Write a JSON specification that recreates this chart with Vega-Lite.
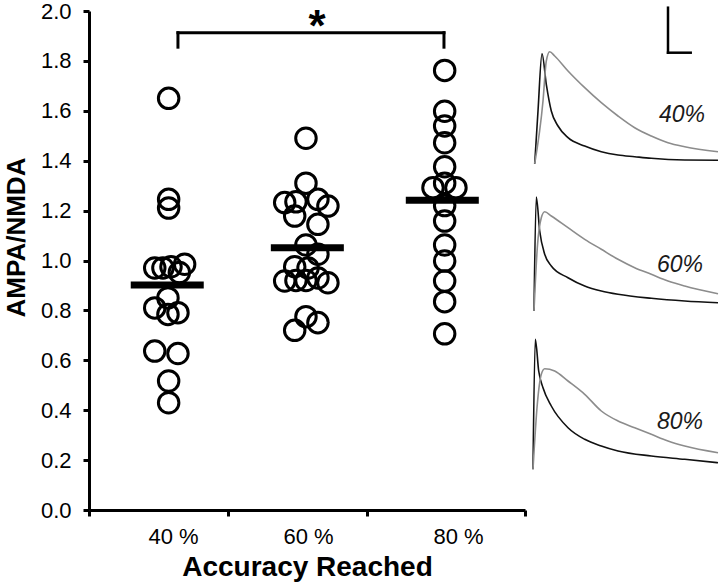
{
  "$schema": "https://vega.github.io/schema/vega-lite/v6.json",
  "autosize": {"type": "pad"},
  "padding": {"left": 3, "top": 0, "right": 0, "bottom": 2},
  "spacing": 8,
  "bounds": "flush",
  "config": {
    "view": {"stroke": null},
    "font": "Liberation Sans",
    "axis": {"domainColor": "black", "tickColor": "black", "labelColor": "black", "titleColor": "black", "grid": false}
  },
  "datasets": {
    "points": [
      {"group": "40 %", "pos": 0.573, "ratio": 1.65},
      {"group": "40 %", "pos": 0.573, "ratio": 1.245},
      {"group": "40 %", "pos": 0.573, "ratio": 1.21},
      {"group": "40 %", "pos": 0.473, "ratio": 0.97},
      {"group": "40 %", "pos": 0.532, "ratio": 0.97},
      {"group": "40 %", "pos": 0.590, "ratio": 0.975},
      {"group": "40 %", "pos": 0.688, "ratio": 0.985},
      {"group": "40 %", "pos": 0.650, "ratio": 0.952},
      {"group": "40 %", "pos": 0.568, "ratio": 0.85},
      {"group": "40 %", "pos": 0.473, "ratio": 0.81},
      {"group": "40 %", "pos": 0.568, "ratio": 0.784},
      {"group": "40 %", "pos": 0.640, "ratio": 0.791},
      {"group": "40 %", "pos": 0.473, "ratio": 0.637},
      {"group": "40 %", "pos": 0.640, "ratio": 0.627},
      {"group": "40 %", "pos": 0.573, "ratio": 0.517},
      {"group": "40 %", "pos": 0.573, "ratio": 0.43},
      {"group": "60 %", "pos": 1.561, "ratio": 1.49},
      {"group": "60 %", "pos": 1.561, "ratio": 1.31},
      {"group": "60 %", "pos": 1.408, "ratio": 1.232},
      {"group": "60 %", "pos": 1.489, "ratio": 1.235},
      {"group": "60 %", "pos": 1.480, "ratio": 1.178},
      {"group": "60 %", "pos": 1.647, "ratio": 1.245},
      {"group": "60 %", "pos": 1.719, "ratio": 1.218},
      {"group": "60 %", "pos": 1.647, "ratio": 1.145},
      {"group": "60 %", "pos": 1.561, "ratio": 1.062},
      {"group": "60 %", "pos": 1.647, "ratio": 1.025},
      {"group": "60 %", "pos": 1.480, "ratio": 0.975},
      {"group": "60 %", "pos": 1.576, "ratio": 0.97},
      {"group": "60 %", "pos": 1.408, "ratio": 0.918},
      {"group": "60 %", "pos": 1.489, "ratio": 0.92},
      {"group": "60 %", "pos": 1.561, "ratio": 0.92},
      {"group": "60 %", "pos": 1.647, "ratio": 0.93},
      {"group": "60 %", "pos": 1.719, "ratio": 0.911},
      {"group": "60 %", "pos": 1.561, "ratio": 0.775},
      {"group": "60 %", "pos": 1.647, "ratio": 0.751},
      {"group": "60 %", "pos": 1.480, "ratio": 0.72},
      {"group": "80 %", "pos": 2.559, "ratio": 1.762},
      {"group": "80 %", "pos": 2.559, "ratio": 1.598},
      {"group": "80 %", "pos": 2.559, "ratio": 1.539},
      {"group": "80 %", "pos": 2.559, "ratio": 1.472},
      {"group": "80 %", "pos": 2.559, "ratio": 1.376},
      {"group": "80 %", "pos": 2.559, "ratio": 1.31},
      {"group": "80 %", "pos": 2.475, "ratio": 1.292},
      {"group": "80 %", "pos": 2.640, "ratio": 1.292},
      {"group": "80 %", "pos": 2.559, "ratio": 1.22},
      {"group": "80 %", "pos": 2.559, "ratio": 1.158},
      {"group": "80 %", "pos": 2.559, "ratio": 1.062},
      {"group": "80 %", "pos": 2.559, "ratio": 0.998},
      {"group": "80 %", "pos": 2.559, "ratio": 0.918},
      {"group": "80 %", "pos": 2.559, "ratio": 0.835},
      {"group": "80 %", "pos": 2.559, "ratio": 0.706}
    ],
    "means": [
      {"group": "40 %", "pos": 0.563, "ratio": 0.902},
      {"group": "60 %", "pos": 1.571, "ratio": 1.051},
      {"group": "80 %", "pos": 2.542, "ratio": 1.241}
    ],
    "bracket": [
      {"pos": 0.64, "pos2": 0.64, "ratio": 1.855, "ratio2": 1.913},
      {"pos": 0.64, "pos2": 2.554, "ratio": 1.913, "ratio2": 1.913},
      {"pos": 2.554, "pos2": 2.554, "ratio": 1.855, "ratio2": 1.913}
    ],
    "signif": [
      {"pos": 1.64, "ratio": 1.88, "label": "*"}
    ],
    "traces": [
      {"id": "40 AMPA", "receptor": "AMPA", "t": 1.7, "amp": 346.3},
      {"id": "40 AMPA", "receptor": "AMPA", "t": 5, "amp": 399},
      {"id": "40 AMPA", "receptor": "AMPA", "t": 9, "amp": 456.3},
      {"id": "40 AMPA", "receptor": "AMPA", "t": 13.3, "amp": 425.7},
      {"id": "40 AMPA", "receptor": "AMPA", "t": 18.3, "amp": 399},
      {"id": "40 AMPA", "receptor": "AMPA", "t": 25, "amp": 384},
      {"id": "40 AMPA", "receptor": "AMPA", "t": 35, "amp": 372.3},
      {"id": "40 AMPA", "receptor": "AMPA", "t": 51.7, "amp": 364},
      {"id": "40 AMPA", "receptor": "AMPA", "t": 68.3, "amp": 358.3},
      {"id": "40 AMPA", "receptor": "AMPA", "t": 85, "amp": 355},
      {"id": "40 AMPA", "receptor": "AMPA", "t": 101.7, "amp": 353.3},
      {"id": "40 AMPA", "receptor": "AMPA", "t": 118.3, "amp": 351.7},
      {"id": "40 AMPA", "receptor": "AMPA", "t": 151.7, "amp": 350},
      {"id": "40 AMPA", "receptor": "AMPA", "t": 185, "amp": 349.7},
      {"id": "40 NMDA", "receptor": "NMDA", "t": 1.7, "amp": 346.3},
      {"id": "40 NMDA", "receptor": "NMDA", "t": 10, "amp": 409},
      {"id": "40 NMDA", "receptor": "NMDA", "t": 13.3, "amp": 449},
      {"id": "40 NMDA", "receptor": "NMDA", "t": 16.7, "amp": 458.3},
      {"id": "40 NMDA", "receptor": "NMDA", "t": 21.7, "amp": 454},
      {"id": "40 NMDA", "receptor": "NMDA", "t": 35, "amp": 439},
      {"id": "40 NMDA", "receptor": "NMDA", "t": 51.7, "amp": 422.3},
      {"id": "40 NMDA", "receptor": "NMDA", "t": 68.3, "amp": 407.3},
      {"id": "40 NMDA", "receptor": "NMDA", "t": 85, "amp": 394},
      {"id": "40 NMDA", "receptor": "NMDA", "t": 101.7, "amp": 382.3},
      {"id": "40 NMDA", "receptor": "NMDA", "t": 118.3, "amp": 374},
      {"id": "40 NMDA", "receptor": "NMDA", "t": 135, "amp": 367.3},
      {"id": "40 NMDA", "receptor": "NMDA", "t": 151.7, "amp": 363.3},
      {"id": "40 NMDA", "receptor": "NMDA", "t": 185, "amp": 358.3},
      {"id": "60 AMPA", "receptor": "AMPA", "t": 1, "amp": 199},
      {"id": "60 AMPA", "receptor": "AMPA", "t": 3.3, "amp": 313},
      {"id": "60 AMPA", "receptor": "AMPA", "t": 6.7, "amp": 279},
      {"id": "60 AMPA", "receptor": "AMPA", "t": 11.7, "amp": 255.7},
      {"id": "60 AMPA", "receptor": "AMPA", "t": 18.3, "amp": 244},
      {"id": "60 AMPA", "receptor": "AMPA", "t": 35, "amp": 232.3},
      {"id": "60 AMPA", "receptor": "AMPA", "t": 51.7, "amp": 224},
      {"id": "60 AMPA", "receptor": "AMPA", "t": 68.3, "amp": 219},
      {"id": "60 AMPA", "receptor": "AMPA", "t": 85, "amp": 215.7},
      {"id": "60 AMPA", "receptor": "AMPA", "t": 118.3, "amp": 211.7},
      {"id": "60 AMPA", "receptor": "AMPA", "t": 151.7, "amp": 209},
      {"id": "60 AMPA", "receptor": "AMPA", "t": 185, "amp": 207.3},
      {"id": "60 NMDA", "receptor": "NMDA", "t": 1, "amp": 199},
      {"id": "60 NMDA", "receptor": "NMDA", "t": 4.3, "amp": 262.3},
      {"id": "60 NMDA", "receptor": "NMDA", "t": 8.3, "amp": 292.3},
      {"id": "60 NMDA", "receptor": "NMDA", "t": 11.7, "amp": 298.3},
      {"id": "60 NMDA", "receptor": "NMDA", "t": 18.3, "amp": 294},
      {"id": "60 NMDA", "receptor": "NMDA", "t": 35, "amp": 282.3},
      {"id": "60 NMDA", "receptor": "NMDA", "t": 51.7, "amp": 270.7},
      {"id": "60 NMDA", "receptor": "NMDA", "t": 68.3, "amp": 260.7},
      {"id": "60 NMDA", "receptor": "NMDA", "t": 85, "amp": 250.7},
      {"id": "60 NMDA", "receptor": "NMDA", "t": 101.7, "amp": 242.3},
      {"id": "60 NMDA", "receptor": "NMDA", "t": 118.3, "amp": 235.7},
      {"id": "60 NMDA", "receptor": "NMDA", "t": 135, "amp": 229},
      {"id": "60 NMDA", "receptor": "NMDA", "t": 151.7, "amp": 224},
      {"id": "60 NMDA", "receptor": "NMDA", "t": 185, "amp": 216.3},
      {"id": "80 AMPA", "receptor": "AMPA", "t": 0, "amp": 40.7},
      {"id": "80 AMPA", "receptor": "AMPA", "t": 2.3, "amp": 170.7},
      {"id": "80 AMPA", "receptor": "AMPA", "t": 5.7, "amp": 139},
      {"id": "80 AMPA", "receptor": "AMPA", "t": 10, "amp": 122.3},
      {"id": "80 AMPA", "receptor": "AMPA", "t": 18.3, "amp": 104},
      {"id": "80 AMPA", "receptor": "AMPA", "t": 35, "amp": 82.3},
      {"id": "80 AMPA", "receptor": "AMPA", "t": 51.7, "amp": 70.7},
      {"id": "80 AMPA", "receptor": "AMPA", "t": 68.3, "amp": 64},
      {"id": "80 AMPA", "receptor": "AMPA", "t": 85, "amp": 59},
      {"id": "80 AMPA", "receptor": "AMPA", "t": 118.3, "amp": 54},
      {"id": "80 AMPA", "receptor": "AMPA", "t": 151.7, "amp": 50.7},
      {"id": "80 AMPA", "receptor": "AMPA", "t": 185, "amp": 47.3},
      {"id": "80 NMDA", "receptor": "NMDA", "t": 0, "amp": 40.7},
      {"id": "80 NMDA", "receptor": "NMDA", "t": 4.3, "amp": 105.7},
      {"id": "80 NMDA", "receptor": "NMDA", "t": 8.3, "amp": 135.7},
      {"id": "80 NMDA", "receptor": "NMDA", "t": 11.7, "amp": 141.3},
      {"id": "80 NMDA", "receptor": "NMDA", "t": 21.7, "amp": 139},
      {"id": "80 NMDA", "receptor": "NMDA", "t": 35, "amp": 129},
      {"id": "80 NMDA", "receptor": "NMDA", "t": 51.7, "amp": 115.7},
      {"id": "80 NMDA", "receptor": "NMDA", "t": 68.3, "amp": 99},
      {"id": "80 NMDA", "receptor": "NMDA", "t": 85, "amp": 89},
      {"id": "80 NMDA", "receptor": "NMDA", "t": 101.7, "amp": 82.3},
      {"id": "80 NMDA", "receptor": "NMDA", "t": 118.3, "amp": 75.7},
      {"id": "80 NMDA", "receptor": "NMDA", "t": 135, "amp": 69},
      {"id": "80 NMDA", "receptor": "NMDA", "t": 151.7, "amp": 64},
      {"id": "80 NMDA", "receptor": "NMDA", "t": 185, "amp": 57.3}
    ],
    "scalebar": [
      {"t": 135, "t2": 135, "amp": 457.3, "amp2": 502.3},
      {"t": 135, "t2": 157.7, "amp": 457.3, "amp2": 457.3}
    ],
    "tracelabels": [
      {"t": 149, "amp": 388, "label": "40%"},
      {"t": 147, "amp": 238, "label": "60%"},
      {"t": 147, "amp": 81, "label": "80%"}
    ]
  },
  "hconcat": [
    {
      "width": 436,
      "height": 499,
      "layer": [
        {
          "data": {"name": "points"},
          "mark": {"type": "point", "shape": "circle", "filled": false, "size": 420, "strokeWidth": 3, "color": "black", "opacity": 1},
          "encoding": {
            "x": {
              "field": "pos", "type": "quantitative",
              "scale": {"domain": [0, 3.137], "nice": false, "zero": false},
              "axis": {
                "title": "Accuracy Reached",
                "values": [0, 1, 2, 3.137],
                "labelExpr": "datum.value == 0 ? '40 %' : datum.value == 1 ? '60 %' : datum.value == 2 ? '80 %' : ''",
                "labelOffset": {"condition": [{"test": "datum.value == 1", "value": 80}, {"test": "datum.value == 2", "value": 91}], "value": 84},
                "labelFlush": false,
                "labelOverlap": false,
                "labelBound": false,
                "labelFontSize": 22,
                "labelPadding": 10,
                "tickSize": 6,
                "tickWidth": 3,
                "domainWidth": 3,
                "titleFontSize": 28,
                "titleFontWeight": "bold",
                "titlePadding": 6
              }
            },
            "y": {
              "field": "ratio", "type": "quantitative",
              "scale": {"domain": [0, 2], "nice": false},
              "axis": {
                "title": "AMPA/NMDA",
                "values": [0, 0.2, 0.4, 0.6, 0.8, 1, 1.2, 1.4, 1.6, 1.8, 2],
                "format": ".1f",
                "labelFontSize": 22,
                "labelPadding": 12,
                "tickSize": 6,
                "tickWidth": 3,
                "domainWidth": 3,
                "titleFontSize": 26,
                "titleFontWeight": "bold",
                "titlePadding": 11,
                "titleY": 226
              }
            }
          }
        },
        {
          "data": {"name": "means"},
          "mark": {"type": "tick", "orient": "horizontal", "size": 73, "thickness": 7, "color": "black", "opacity": 1},
          "encoding": {
            "x": {"field": "pos", "type": "quantitative"},
            "y": {"field": "ratio", "type": "quantitative"}
          }
        },
        {
          "data": {"name": "bracket"},
          "mark": {"type": "rule", "strokeWidth": 3, "color": "black", "strokeCap": "square"},
          "encoding": {
            "x": {"field": "pos", "type": "quantitative"},
            "x2": {"field": "pos2"},
            "y": {"field": "ratio", "type": "quantitative"},
            "y2": {"field": "ratio2"}
          }
        },
        {
          "data": {"name": "signif"},
          "mark": {"type": "text", "fontSize": 44, "fontWeight": "bold", "align": "center", "baseline": "alphabetic", "color": "black"},
          "encoding": {
            "x": {"field": "pos", "type": "quantitative"},
            "y": {"field": "ratio", "type": "quantitative"},
            "text": {"field": "label"}
          }
        }
      ]
    },
    {
      "width": 185,
      "height": 499,
      "layer": [
        {
          "data": {"name": "traces"},
          "mark": {"type": "line", "strokeWidth": 1.6, "interpolate": "monotone"},
          "encoding": {
            "x": {"field": "t", "type": "quantitative", "scale": {"domain": [0, 185], "nice": false, "zero": false}, "axis": null},
            "y": {"field": "amp", "type": "quantitative", "scale": {"domain": [0, 499], "nice": false, "zero": false}, "axis": null},
            "detail": {"field": "id"},
            "color": {"field": "receptor", "type": "nominal", "scale": {"domain": ["AMPA", "NMDA"], "range": ["#111111", "#8c8c8c"]}, "legend": null}
          }
        },
        {
          "data": {"name": "scalebar"},
          "mark": {"type": "rule", "strokeWidth": 2.5, "color": "black", "strokeCap": "square"},
          "encoding": {
            "x": {"field": "t", "type": "quantitative"},
            "x2": {"field": "t2"},
            "y": {"field": "amp", "type": "quantitative"},
            "y2": {"field": "amp2"}
          }
        },
        {
          "data": {"name": "tracelabels"},
          "mark": {"type": "text", "fontSize": 23, "fontStyle": "italic", "align": "center", "baseline": "alphabetic", "color": "#1a1a1a"},
          "encoding": {
            "x": {"field": "t", "type": "quantitative"},
            "y": {"field": "amp", "type": "quantitative"},
            "text": {"field": "label"}
          }
        }
      ]
    }
  ]
}
